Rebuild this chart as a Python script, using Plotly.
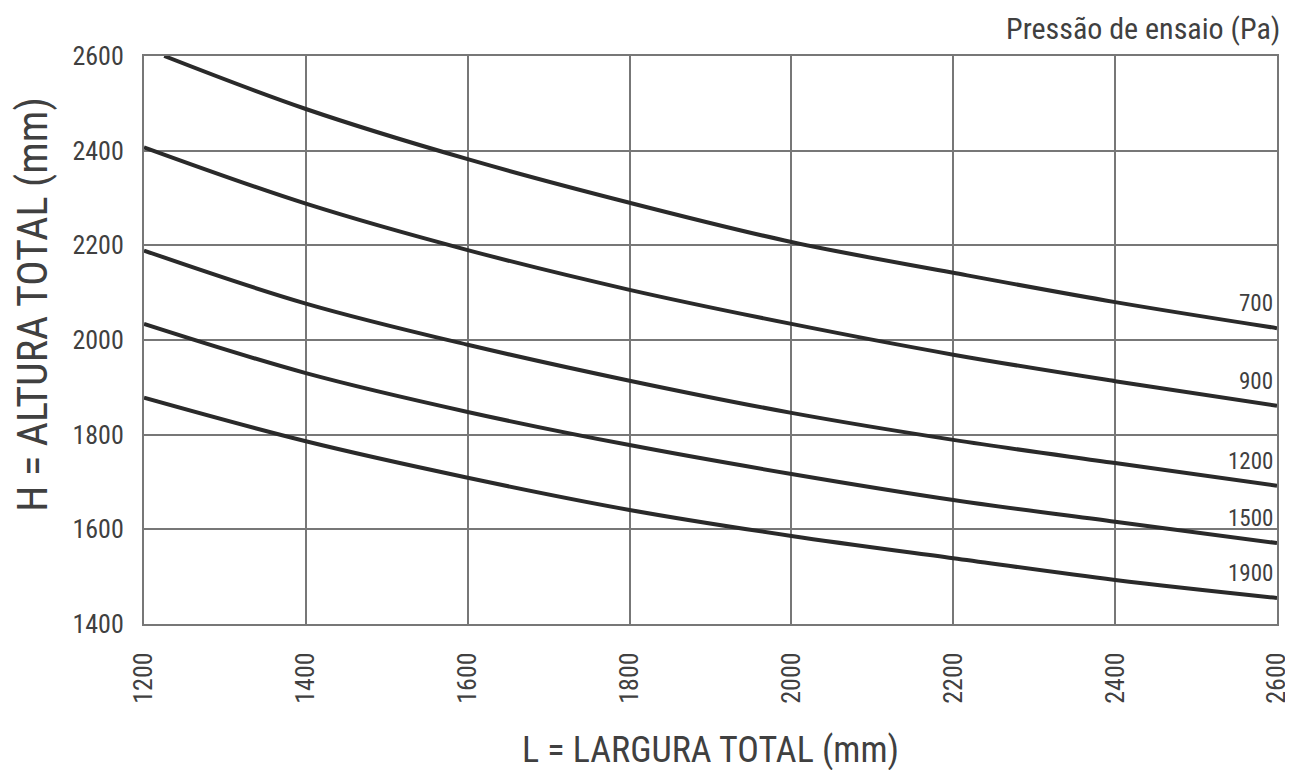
import plotly.graph_objects as go

# Curvas de pressão de ensaio: L (largura) x H (altura), em mm
pressoes = ['700', '900', '1200', '1500', '1900']

largura_700 = [1225, 1400, 1600, 1800, 2000, 2200, 2400, 2600]
altura_700 = [2600, 2488, 2382, 2290, 2207, 2142, 2080, 2025]

largura_900 = [1200, 1400, 1600, 1800, 2000, 2200, 2400, 2600]
altura_900 = [2407, 2288, 2190, 2106, 2034, 1969, 1913, 1861]

largura_1200 = [1200, 1400, 1600, 1800, 2000, 2200, 2400, 2600]
altura_1200 = [2189, 2077, 1990, 1914, 1846, 1789, 1740, 1692]

largura_1500 = [1200, 1400, 1600, 1800, 2000, 2200, 2400, 2600]
altura_1500 = [2034, 1930, 1848, 1778, 1717, 1662, 1616, 1571]

largura_1900 = [1200, 1400, 1600, 1800, 2000, 2200, 2400, 2600]
altura_1900 = [1878, 1786, 1709, 1641, 1586, 1539, 1493, 1455]

series = {
    '700': (largura_700, altura_700),
    '900': (largura_900, altura_900),
    '1200': (largura_1200, altura_1200),
    '1500': (largura_1500, altura_1500),
    '1900': (largura_1900, altura_1900),
}

x_ticks = [1200, 1400, 1600, 1800, 2000, 2200, 2400, 2600]
y_ticks = [1400, 1600, 1800, 2000, 2200, 2400, 2600]

FONT = 'Roboto Condensed, Liberation Sans, Arial, sans-serif'
TEXT = '#404040'
GRID = '#777777'

fig = go.Figure()

for nome in pressoes:
    xs, ys = series[nome]
    fig.add_trace(go.Scatter(
        x=xs, y=ys,
        mode='lines',
        line=dict(color='#2a2a2a', width=4, shape='spline', smoothing=1.0),
        name=nome,
        showlegend=False,
        hoverinfo='skip',
    ))
    # rótulo da curva junto à borda direita
    fig.add_annotation(
        x=xs[-1], y=ys[-1],
        text=nome,
        showarrow=False,
        xanchor='right', yanchor='bottom',
        xshift=-2, yshift=9,
        font=dict(family=FONT, size=23, color=TEXT),
    )

fig.add_annotation(
    x=1, y=1, xref='paper', yref='paper',
    text='Pressão de ensaio (Pa)',
    showarrow=False,
    xanchor='right', yanchor='bottom',
    xshift=5, yshift=8,
    font=dict(family=FONT, size=30, color=TEXT),
)

# título do eixo vertical (um pouco acima do centro, como no original)
fig.add_annotation(
    x=0, y=0.562, xref='paper', yref='paper',
    text='H = ALTURA TOTAL (mm)',
    textangle=-90,
    showarrow=False,
    xanchor='center', yanchor='middle',
    xshift=-111,
    font=dict(family=FONT, size=42, color=TEXT),
)

fig.update_xaxes(
    range=[1200, 2600],
    tickvals=x_ticks,
    tickangle=-90,
    showgrid=True, gridcolor=GRID, gridwidth=2,
    showline=True, linecolor=GRID, linewidth=2, mirror=True,
    zeroline=False, automargin=False,
    ticks='', ticklabelstandoff=16,
    tickfont=dict(family=FONT, size=26, color=TEXT),
    title=dict(text='L = LARGURA TOTAL (mm)', standoff=34,
               font=dict(family=FONT, size=36, color=TEXT)),
)

fig.update_yaxes(
    range=[1400, 2600],
    tickvals=y_ticks,
    showgrid=True, gridcolor=GRID, gridwidth=2,
    showline=True, linecolor=GRID, linewidth=2, mirror=True,
    zeroline=False, automargin=False,
    ticks='', ticklabelstandoff=13,
    tickfont=dict(family=FONT, size=26, color=TEXT),
)

fig.update_layout(
    width=1293, height=770,
    margin=dict(l=136, r=24, t=48, b=154),
    plot_bgcolor='white',
    paper_bgcolor='white',
)

fig.write_html("out.html")
